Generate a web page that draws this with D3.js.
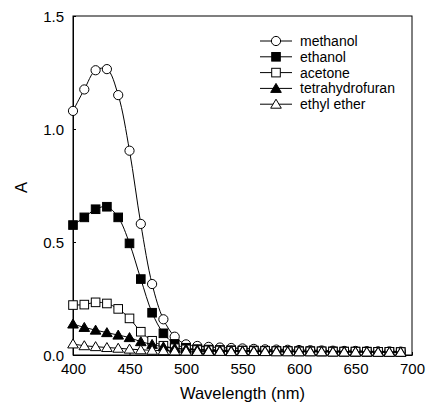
<!DOCTYPE html>
<html>
<head>
<meta charset="utf-8">
<script src="https://cdn.jsdelivr.net/npm/d3@7"></script>
<style>
  body { margin: 0; background: #fff; }
  svg { font-family: "Liberation Sans", Arial, sans-serif; }
</style>
</head>
<body>
<svg id="chart" width="426" height="415"></svg>
<script>
// wavelengths 400..690 step 10 (30 points)
var wavelengths = [400,410,420,430,440,450,460,470,480,490,500,510,520,530,540,550,560,570,580,590,600,610,620,630,640,650,660,670,680,690];

var methanol = [1.08,1.175,1.26,1.265,1.15,0.904,0.58,0.314,0.158,0.081,0.047,0.04,0.036,0.033,0.031,0.029,0.027,0.025,0.024,0.023,0.022,0.021,0.02,0.019,0.018,0.018,0.017,0.016,0.016,0.015];
var ethanol = [0.575,0.609,0.645,0.656,0.609,0.494,0.336,0.187,0.096,0.049,0.032,0.026,0.024,0.022,0.021,0.02,0.02,0.019,0.018,0.018,0.017,0.017,0.016,0.016,0.015,0.015,0.015,0.014,0.014,0.013];
var acetone = [0.221,0.223,0.233,0.228,0.204,0.162,0.103,0.063,0.041,0.03,0.025,0.022,0.021,0.02,0.019,0.019,0.018,0.018,0.017,0.017,0.016,0.016,0.016,0.015,0.015,0.015,0.014,0.014,0.014,0.013];
var thf = [0.137,0.122,0.11,0.099,0.088,0.077,0.059,0.047,0.036,0.03,0.026,0.023,0.021,0.02,0.019,0.018,0.018,0.017,0.017,0.016,0.016,0.016,0.015,0.015,0.015,0.014,0.014,0.014,0.013,0.013];
var ether = [0.049,0.041,0.037,0.033,0.03,0.026,0.023,0.021,0.019,0.018,0.017,0.016,0.016,0.016,0.015,0.015,0.015,0.015,0.014,0.014,0.014,0.014,0.014,0.013,0.013,0.013,0.013,0.012,0.012,0.012];

var seriesNames = ["methanol", "ethanol", "acetone", "tetrahydrofuran", "ethyl ether"];
var seriesValues = [methanol, ethanol, acetone, thf, ether];
var seriesMarkers = ["circle", "square", "square", "triangle", "triangle"];
var seriesFill = ["#fff", "#000", "#fff", "#000", "#fff"];

var xTicks = [400,450,500,550,600,650,700];
var yTicks = [0, 0.5, 1.0, 1.5];

var svg = d3.select("#chart");
var plotL = 73, plotR = 412, plotT = 16, plotB = 355;

var x = d3.scaleLinear().domain([400, 700]).range([plotL, plotR]);
var y = d3.scaleLinear().domain([0, 1.5]).range([plotB, plotT]);

// frame
svg.append("rect")
    .attr("x", plotL).attr("y", plotT)
    .attr("width", plotR - plotL).attr("height", plotB - plotT)
    .attr("fill", "none").attr("stroke", "#000").attr("stroke-width", 1);

// axes with inward ticks
var xAxis = svg.append("g")
    .attr("transform", "translate(0," + plotB + ")")
    .call(d3.axisBottom(x).tickValues(xTicks).tickFormat(d3.format("d")).tickSizeInner(-3).tickSizeOuter(0).tickPadding(8));
var yAxis = svg.append("g")
    .attr("transform", "translate(" + plotL + ",0)")
    .call(d3.axisLeft(y).tickValues(yTicks).tickFormat(d3.format(".1f")).tickSizeInner(-3).tickSizeOuter(0).tickPadding(9));
[xAxis, yAxis].forEach(function(a) {
    a.select(".domain").attr("stroke", "#000");
    a.selectAll("text").attr("font-size", 15).attr("fill", "#000")
        .style("font-family", "'Liberation Sans', Arial, sans-serif");
});
yAxis.selectAll("text").attr("dy", "0.35em");

svg.append("text")
    .attr("x", (plotL + plotR) / 2).attr("y", 399)
    .attr("text-anchor", "middle").attr("font-size", 16.5)
    .text("Wavelength (nm)");
svg.append("text")
    .attr("transform", "translate(27," + ((plotT + plotB) / 2 + 2) + ") rotate(-90)")
    .attr("text-anchor", "middle").attr("font-size", 16.5)
    .text("A");

var line = d3.line()
    .x(function(d, i) { return x(wavelengths[i]); })
    .y(function(d) { return y(d); })
    .curve(d3.curveCatmullRom);

function drawMarker(g, type, cx, cy, fill) {
    if (type == "circle") {
        g.append("circle").attr("cx", cx).attr("cy", cy).attr("r", 4.6)
            .attr("fill", fill).attr("stroke", "#000").attr("stroke-width", 1);
    } else if (type == "square") {
        g.append("rect").attr("x", cx - 4.3).attr("y", cy - 4.3).attr("width", 8.6).attr("height", 8.6)
            .attr("fill", fill).attr("stroke", "#000").attr("stroke-width", 1);
    } else {
        g.append("path")
            .attr("d", "M" + cx + "," + (cy - 5) + "L" + (cx + 5.3) + "," + (cy + 4) + "L" + (cx - 5.3) + "," + (cy + 4) + "Z")
            .attr("fill", fill).attr("stroke", "#000").attr("stroke-width", 1);
    }
}

// methanol first, ethyl ether last (on top)
for (var s = 0; s < seriesValues.length; s++) {
    var g = svg.append("g");
    g.append("path")
        .datum(seriesValues[s])
        .attr("d", line)
        .attr("fill", "none").attr("stroke", "#000").attr("stroke-width", 1);
    seriesValues[s].forEach(function(v, i) {
        drawMarker(g, seriesMarkers[s], x(wavelengths[i]), y(v), seriesFill[s]);
    });
}

// legend
var legend = svg.append("g");
seriesNames.forEach(function(name, i) {
    var ly = 41 + i * 15.8;
    legend.append("line").attr("x1", 260).attr("x2", 292).attr("y1", ly).attr("y2", ly)
        .attr("stroke", "#000").attr("stroke-width", 1);
    drawMarker(legend, seriesMarkers[i], 276, ly, seriesFill[i]);
    legend.append("text").attr("x", 300).attr("y", ly).attr("dy", "0.35em")
        .attr("font-size", 14).text(name);
});
</script>
</body>
</html>
